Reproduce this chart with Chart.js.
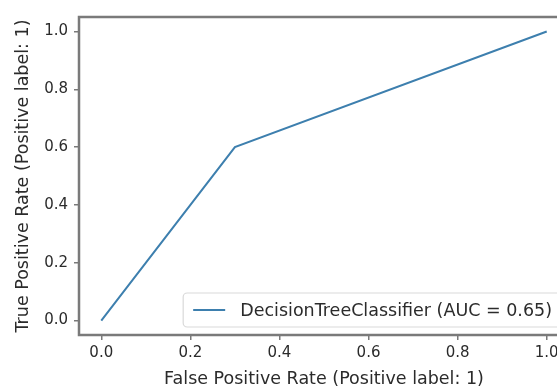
<!DOCTYPE html>
<html>
<head>
<meta charset="utf-8">
<script src="https://cdn.jsdelivr.net/npm/chart.js@4/dist/chart.umd.min.js"></script>
<style>
  html, body { margin: 0; padding: 0; background: #fff; overflow: hidden; }
  #rocChart { display: block; }
</style>
</head>
<body>
<canvas id="rocChart" width="600" height="390"></canvas>
<script>
// ROC curve points
const fpr = [0.0, 0.3, 1.0];
const tpr = [0.0, 0.6, 1.0];
const seriesLabel = 'DecisionTreeClassifier (AUC = 0.65)';
const tickValues = [0.0, 0.2, 0.4, 0.6, 0.8, 1.0];

const textColor = '#2b2b2b';
const spineColor = '#7a7a7a';
const lineColor = '#3d7fae';
const fontFamily = '"DejaVu Sans", sans-serif';

// frame around the plot area (matplotlib spines)
const framePlugin = {
    id: 'frame',
    afterDatasetsDraw(chart) {
        const { ctx, chartArea: a } = chart;
        ctx.save();
        ctx.strokeStyle = spineColor;
        ctx.lineWidth = 2.5;
        ctx.strokeRect(a.left, a.top, a.right - a.left, a.bottom - a.top);
        ctx.restore();
    }
};

// legend box in the lower right of the plot area
const legendBoxPlugin = {
    id: 'legendBox',
    afterDraw(chart) {
        const { ctx, chartArea: a } = chart;
        const ds = chart.data.datasets[0];
        ctx.save();
        ctx.font = '17.5px ' + fontFamily;
        const tw = ctx.measureText(ds.label).width;
        const right = a.right - 6;
        const bottom = a.bottom - 8;
        const h = 34;
        const left = right - tw - 68;
        const top = bottom - h;
        ctx.fillStyle = 'rgba(255,255,255,0.85)';
        ctx.strokeStyle = '#d9d9d9';
        ctx.lineWidth = 1.2;
        ctx.beginPath();
        ctx.roundRect(left, top, right - left, h, 4);
        ctx.fill();
        ctx.stroke();
        const cy = top + h / 2;
        ctx.strokeStyle = ds.borderColor;
        ctx.lineWidth = 2;
        ctx.beginPath();
        ctx.moveTo(left + 10, cy);
        ctx.lineTo(left + 42, cy);
        ctx.stroke();
        ctx.fillStyle = textColor;
        ctx.textBaseline = 'middle';
        ctx.fillText(ds.label, left + 57, cy + 1);
        ctx.restore();
    }
};

new Chart(document.getElementById('rocChart').getContext('2d'), {
    type: 'line',
    data: {
        datasets: [{
            label: seriesLabel,
            data: fpr.map((x, i) => ({ x: x, y: tpr[i] })),
            borderColor: lineColor,
            borderWidth: 2,
            pointRadius: 0,
            fill: false,
            tension: 0
        }]
    },
    options: {
        responsive: false,
        animation: false,
        layout: { padding: { top: 17, right: 31, left: 0, bottom: 0 } },
        plugins: {
            legend: { display: false },
            tooltip: { enabled: false }
        },
        scales: {
            x: {
                type: 'linear',
                min: -0.05,
                max: 1.05,
                afterBuildTicks: s => { s.ticks = tickValues.map(v => ({ value: v })); },
                afterFit: s => { s.height = 55; },
                grid: { drawOnChartArea: false, drawTicks: true, tickLength: 5, color: spineColor, lineWidth: 1.5 },
                border: { display: false },
                ticks: {
                    color: textColor,
                    font: { family: fontFamily, size: 15 },
                    padding: 4,
                    maxRotation: 0,
                    callback: v => v.toFixed(1)
                },
                title: {
                    display: true,
                    text: 'False Positive Rate (Positive label: 1)',
                    color: textColor,
                    font: { family: fontFamily, size: 17.5 },
                    padding: { top: 0, bottom: 0 }
                }
            },
            y: {
                type: 'linear',
                min: -0.05,
                max: 1.05,
                afterBuildTicks: s => { s.ticks = tickValues.map(v => ({ value: v })); },
                afterFit: s => { s.width = 79; },
                grid: { drawOnChartArea: false, drawTicks: true, tickLength: 5, color: spineColor, lineWidth: 1.5 },
                border: { display: false },
                ticks: {
                    color: textColor,
                    font: { family: fontFamily, size: 15 },
                    padding: 6,
                    callback: v => v.toFixed(1)
                },
                title: {
                    display: true,
                    text: 'True Positive Rate (Positive label: 1)',
                    color: textColor,
                    font: { family: fontFamily, size: 17.5 },
                    padding: { top: 13, bottom: 0 }
                }
            }
        }
    },
    plugins: [framePlugin, legendBoxPlugin]
});
</script>
</body>
</html>
